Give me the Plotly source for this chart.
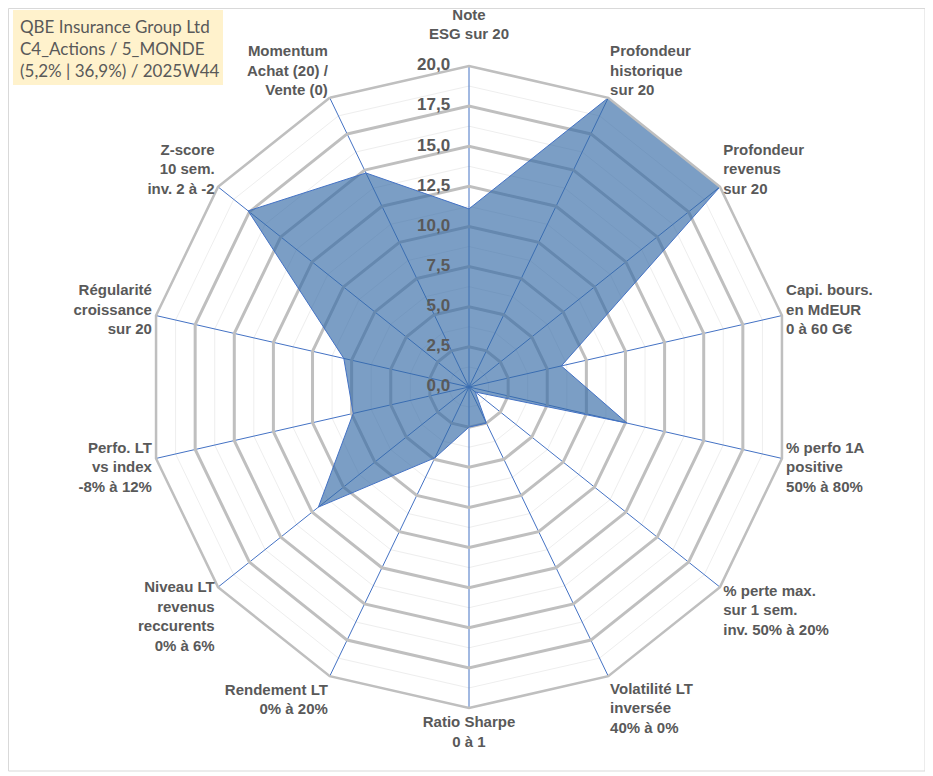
import plotly.graph_objects as go

# axes of the radar, clockwise from the top
categories = [
    "Note<br>ESG sur 20<br> ",
    "Profondeur<br>historique<br>sur 20",
    "Profondeur<br>revenus<br>sur 20",
    "Capi. bours.<br>en MdEUR<br>0 à 60 G€",
    "% perfo 1A<br>positive<br>50% à 80%",
    "% perte max.<br>sur 1 sem.<br>inv. 50% à 20%",
    "Volatilité LT<br>inversée<br>40% à 0%",
    "Ratio Sharpe<br>0 à 1",
    "Rendement LT<br>0% à 20%",
    "Niveau LT<br>revenus<br>reccurents<br>0% à 6%",
    "Perfo. LT<br>vs index<br>-8% à 12%",
    "Régularité<br>croissance<br>sur 20",
    "Z-score<br>10 sem.<br>inv. 2 à -2",
    "Momentum<br>Achat (20) /<br>Vente (0)",
]
scores = [11.1, 20.0, 20.0, 5.9, 10.1, 0.5, 2.5, 2.5, 4.9, 12.0, 7.4, 8.0, 17.6, 14.8]

radial_ticks = [0.0, 2.5, 5.0, 7.5, 10.0, 12.5, 15.0, 17.5, 20.0]
radial_labels = ["0,0", "2,5", "5,0", "7,5", "10,0", "12,5", "15,0", "17,5", "20,0"]

title_lines = ["QBE Insurance Group Ltd", "C4_Actions / 5_MONDE", "(5,2% | 36,9%) / 2025W44"]

# the page body adds an 8px margin, so the figure is drawn 8px smaller and shifted
W, H = 925, 768
cx, cy, rad = 461, 379, 321
dom_x = [(cx - rad) / W, (cx + rad) / W]
dom_y = [(H - cy - rad) / H, (H - cy + rad) / H]

grey_txt = "#595959"
blue = "#4472C4"

fig = go.Figure()

# bottom subplot only carries the faint minor rings
fig.add_trace(go.Scatterpolar(r=scores, theta=categories, mode="lines",
                              line=dict(width=0), opacity=0, hoverinfo="skip",
                              showlegend=False, subplot="polar"))

closed_r = scores + scores[:1]
closed_t = categories + categories[:1]
fig.add_trace(go.Scatterpolar(r=closed_r, theta=closed_t, mode="lines", fill="toself",
                              fillcolor="rgba(52,106,166,0.65)",
                              line=dict(color=blue, width=1),
                              showlegend=False, subplot="polar2"))

# radial tick labels, to the left of the vertical axis
pad = "\u00a0" * 4
fig.add_trace(go.Scatterpolar(r=[max(t, 0.01) for t in radial_ticks],
                              theta=[categories[0]] * len(radial_ticks),
                              mode="text", text=[s + pad for s in radial_labels],
                              textposition="middle left", cliponaxis=False,
                              textfont=dict(family="Liberation Sans, Arial", size=17,
                                            color=grey_txt, weight="bold"),
                              hoverinfo="skip", showlegend=False, subplot="polar2"))

common_ang = dict(type="category", categoryarray=categories, direction="clockwise",
                  rotation=90, ticks="")

fig.update_layout(
    width=W, height=H,
    margin=dict(l=0, r=0, t=0, b=0),
    paper_bgcolor="white",
    showlegend=False,
    polar=dict(
        domain=dict(x=dom_x, y=dom_y),
        gridshape="linear",
        bgcolor="white",
        radialaxis=dict(range=[0, 20], dtick=1.25, showticklabels=False, ticks="",
                        showline=False, gridcolor="#EEEEEE", gridwidth=1),
        angularaxis=dict(**common_ang, showticklabels=False, showgrid=False, showline=False),
    ),
    polar2=dict(
        domain=dict(x=dom_x, y=dom_y),
        gridshape="linear",
        bgcolor="rgba(0,0,0,0)",
        radialaxis=dict(range=[0, 20], dtick=2.5, showticklabels=False, ticks="",
                        angle=90, showline=False, gridcolor="#BFBFBF", gridwidth=2.5),
        angularaxis=dict(**common_ang, gridcolor=blue, gridwidth=1.2,
                         showline=True, linecolor="#BFBFBF", linewidth=2.5,
                         tickfont=dict(family="Liberation Sans, Arial", size=15,
                                       color=grey_txt, weight="bold")),
    ),
    shapes=[
        dict(type="rect", xref="paper", yref="paper", x0=0.5 / W, x1=917 / W,
             y0=1 - 763 / H, y1=1 - 0.5 / H, line=dict(color="#D9D9D9", width=1)),
        dict(type="rect", xref="paper", yref="paper", x0=5 / W, x1=215 / W,
             y0=1 - 77 / H, y1=1 - 2 / H, fillcolor="#FFF2CC", line=dict(width=0),
             layer="below"),
    ],
    annotations=[
        dict(text="<br>".join(title_lines), xref="paper", yref="paper",
             x=10 / W, y=1 - 40 / H, xanchor="left", yanchor="middle", align="left",
             showarrow=False, font=dict(family="Lato", size=17, color=grey_txt)),
    ],
)

fig.write_html("out.html")
